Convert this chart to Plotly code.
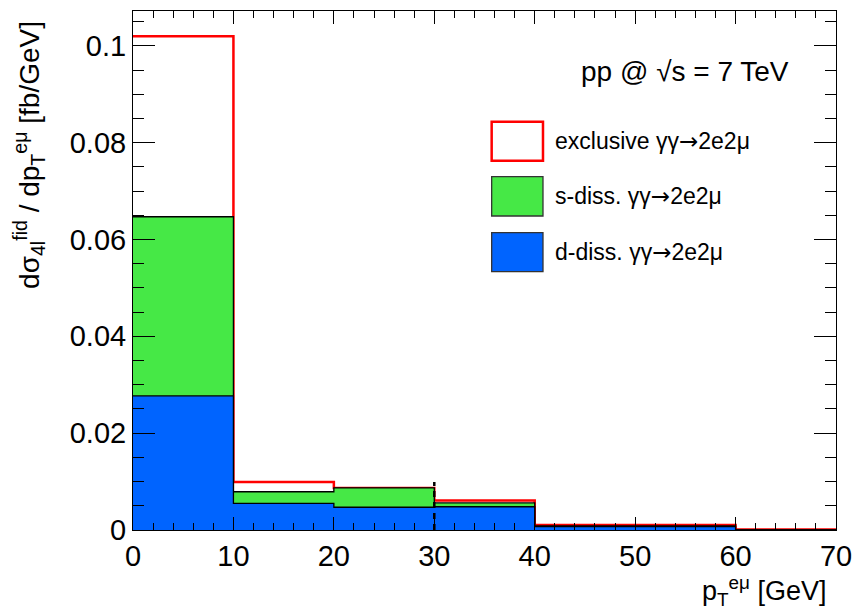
import plotly.graph_objects as go

# ---------------- data ----------------
bin_edges = [0, 10, 20, 30, 40, 60, 70]
exclusive_total = [0.1020, 0.0099, 0.0087, 0.0061, 0.00103, 0.0001]   # stacked total (red outline)
s_diss_total = [0.0647, 0.0079, 0.0087, 0.0056, 0.00085, 0.0]         # s-diss + d-diss (green)
d_diss = [0.0277, 0.0055, 0.0047, 0.0048, 0.0007, 0.0]                # d-diss (blue)
cut_x = 30
cut_height = 0.0099

x_tick_vals = [0, 10, 20, 30, 40, 50, 60, 70]
y_tick_vals = [0, 0.02, 0.04, 0.06, 0.08, 0.1]
y_tick_text = ["0", "0.02", "0.04", "0.06", "0.08", "0.1"]

ARROW = "<span style='font-family:DejaVu Sans'>→</span>"
legend_labels = ["exclusive γγ" + ARROW + "2e2μ", "s-diss. γγ" + ARROW + "2e2μ", "d-diss. γγ" + ARROW + "2e2μ"]

RED = "#ff0000"
GREEN = "#46e846"
BLUE = "#0064ff"
FONT = "Liberation Sans, Arial, Helvetica, sans-serif"


def step(edges, vals):
    # start at the top of the first bin (left edge hidden by the axis), close to zero at the end
    xs = list(edges[:-1]) + [edges[-1], edges[-1]]
    ys = list(vals) + [vals[-1], 0]
    return xs, ys


fig = go.Figure()

x, y = step(bin_edges, exclusive_total)
fig.add_trace(go.Scatter(x=x, y=y, mode="lines", line=dict(shape="hv", color=RED, width=2.5),
                         fill="tozeroy", fillcolor="white", hoverinfo="skip"))
x, y = step(bin_edges, s_diss_total)
fig.add_trace(go.Scatter(x=x, y=y, mode="lines", line=dict(shape="hv", color="black", width=1.3),
                         fill="tozeroy", fillcolor=GREEN, hoverinfo="skip"))
x, y = step(bin_edges, d_diss)
fig.add_trace(go.Scatter(x=x, y=y, mode="lines", line=dict(shape="hv", color="black", width=1.3),
                         fill="tozeroy", fillcolor=BLUE, hoverinfo="skip"))
fig.add_trace(go.Scatter(x=[cut_x, cut_x], y=[0, cut_height], mode="lines",
                         line=dict(color="black", width=2.5, dash="6px,5px"), hoverinfo="skip"))

fig.update_layout(
    width=854, height=613,
    margin=dict(l=133, r=18, t=11, b=83, autoexpand=False),
    paper_bgcolor="white", plot_bgcolor="white",
    showlegend=False,
    font=dict(family=FONT, color="black"),
)

fig.update_xaxes(
    range=[0, 70], showgrid=False, zeroline=False, automargin=False,
    showline=True, linecolor="black", linewidth=1, mirror="ticks",
    ticks="inside", ticklen=13, tickwidth=1, tickcolor="black",
    tickvals=x_tick_vals, tickfont=dict(size=29, family=FONT),
    minor=dict(ticks="inside", dtick=2, ticklen=7, tickcolor="black", tickwidth=1, showgrid=False),
)
fig.update_yaxes(
    range=[0, 0.1072], showgrid=False, zeroline=False, automargin=False,
    showline=True, linecolor="black", linewidth=1, mirror="ticks",
    ticks="inside", ticklen=22, tickwidth=1, tickcolor="black",
    tickvals=y_tick_vals, ticktext=y_tick_text, tickfont=dict(size=29, family=FONT),
    minor=dict(ticks="inside", dtick=0.005, ticklen=11, tickcolor="black", tickwidth=1, showgrid=False),
)

# axis titles
fig.add_annotation(xref="paper", yref="paper", x=-0.147, y=0.722,
                   text="dσ<sub>4l</sub><sup>fid</sup> / dp<sub>T</sub><sup>eμ</sup> [fb/GeV]",
                   textangle=-90, showarrow=False, font=dict(size=28, family=FONT),
                   xanchor="center", yanchor="middle")
fig.add_annotation(xref="paper", yref="paper", x=0.99, y=-0.118,
                   text="p<sub>T</sub><sup>eμ</sup> [GeV]", showarrow=False,
                   font=dict(size=27, family=FONT), xanchor="right", yanchor="middle")

# energy label
fig.add_annotation(xref="paper", yref="paper", x=0.936, y=0.8825,
                   text="pp @ √s = 7 TeV", showarrow=False,
                   font=dict(size=28, family=FONT), xanchor="right", yanchor="middle")

# custom legend
legend_boxes = [(0.7867, 0.7116), (0.6807, 0.605), (0.5728, 0.4977)]
legend_fills = ["white", GREEN, BLUE]
legend_lines = [RED, "#333333", "#333333"]
for (y0, y1), fc, lc, lab in zip(legend_boxes, legend_fills, legend_lines, legend_labels):
    fig.add_shape(type="rect", xref="paper", yref="paper", x0=0.5102, x1=0.5832, y0=y1, y1=y0,
                  fillcolor=fc, line=dict(color=lc, width=2.5 if lc == RED else 1.3))
    fig.add_annotation(xref="paper", yref="paper", x=0.5974, y=(y0 + y1) / 2, text=lab,
                       showarrow=False, font=dict(size=23, family=FONT),
                       xanchor="left", yanchor="middle")

fig.write_html("out.html", config={"displayModeBar": False},
               post_script="document.body.style.margin='0';")
